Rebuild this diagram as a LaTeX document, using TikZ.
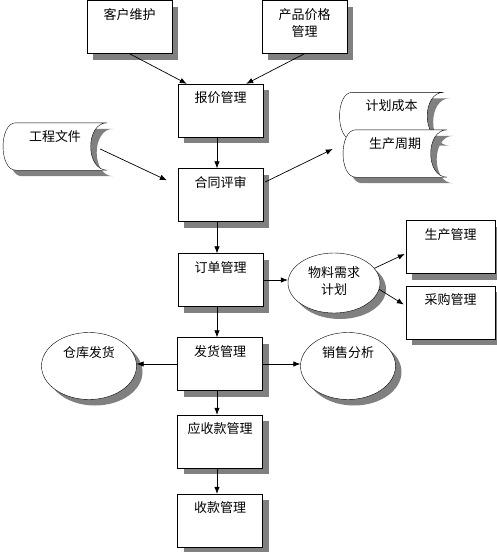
\documentclass[tikz,border=0pt]{standalone}
\usepackage{fontspec}
\setmainfont{Noto Sans CJK SC}
\usetikzlibrary{arrows.meta, shapes.geometric, shadows, backgrounds}
\tikzstyle{gray_shadow} = [drop shadow={shadow xshift=6pt, shadow yshift=-6pt, fill=black!50, opacity=1}]
\tikzstyle{proc_box} = [rectangle, draw=black, fill=white, minimum width=85pt, minimum height=53pt, inner sep=0pt, text height=18.5pt, text depth=34.5pt, font=\fontsize{13}{17}\selectfont, gray_shadow]
\tikzstyle{proc_ellipse} = [ellipse, draw=black, fill=white, inner sep=0pt, font=\fontsize{13}{17}\selectfont, gray_shadow]
\tikzstyle{data_node} = [rectangle, minimum width=104pt, minimum height=47pt, inner sep=0pt, text height=18pt, text depth=29pt, font=\fontsize{13}{17}\selectfont]
\tikzstyle{data_shape} = [draw=black, fill=white, gray_shadow]
\tikzstyle{flow_arrow} = [line width=0.7pt, -{Latex[length=7pt, width=5.5pt]}]
% stored data outline round a data_node
\newcommand{\datashape}[1]{%
  \path[data_shape] ([xshift=13pt]#1.north west) -- (#1.north east)
    .. controls ([xshift=-22pt]#1.north east) and ([xshift=-22pt]#1.south east) .. (#1.south east)
    -- ([xshift=13pt]#1.south west)
    .. controls ([xshift=-4pt]#1.south west) and ([xshift=-4pt]#1.north west) .. cycle;}

\begin{document}
\begin{tikzpicture}[x=1pt, y=-1pt]
    \useasboundingbox (0,0) rectangle (496,552);

    \node (kehu) [proc_box] at (129.5,27) {客户维护};
    \node (chanpin) [proc_box] at (304.5,27) {\begin{tabular}[t]{@{}c@{}}产品价格\\管理\end{tabular}};
    \node (baojia) [proc_box] at (220.5,110.5) {报价管理};
    \node (hetong) [proc_box] at (220.5,195) {合同评审};
    \node (dingdan) [proc_box] at (220.5,280) {订单管理};
    \node (fahuo) [proc_box] at (220,364) {发货管理};
    \node (yingshou) [proc_box] at (220,441.5) {应收款管理};
    \node (shoukuan) [proc_box] at (220,520.5) {收款管理};
    \node (shengchan) [proc_box, minimum width=89pt] at (450.5,247) {生产管理};
    \node (caigou) [proc_box, minimum width=89pt] at (450.5,312.5) {采购管理};

    \node (wuliao) [proc_ellipse, minimum width=92pt, minimum height=60pt] at (334,283) {\begin{tabular}{@{}c@{}}物料需求\\计划\end{tabular}};
    \node (cangku) [proc_ellipse, minimum width=95pt, minimum height=67pt, text height=0pt, text depth=17pt] at (89,366) {仓库发货};
    \node (xiaoshou) [proc_ellipse, minimum width=95pt, minimum height=67pt, text height=0pt, text depth=17pt] at (348,366) {销售分析};

    \node (gongcheng) [data_node] at (55,146.5) {工程文件};
    \node (jihua) [data_node] at (391.5,116) {计划成本};
    \node (zhouqi) [data_node] at (395,153.5) {生产周期};
    \begin{scope}[on background layer]
        \datashape{gongcheng}
        \datashape{jihua}
        \datashape{zhouqi}
    \end{scope}

    \draw [flow_arrow] (kehu.south) -- ([shift={(9,0)}]baojia.north west);
    \draw [flow_arrow] (chanpin.south) -- ([shift={(-17,0)}]baojia.north east);
    \draw [flow_arrow] ([shift={(-3.5,0)}]baojia.south) -- ([shift={(-3.5,0)}]hetong.north);
    \draw [flow_arrow] ([shift={(-7,2.5)}]gongcheng.east) -- ([shift={(-11,12)}]hetong.north west);
    \draw [flow_arrow] ([shift={(2,-13)}]hetong.east) -- ([shift={(-10,-4.5)}]zhouqi.west);
    \draw [flow_arrow] ([shift={(-3.5,0)}]hetong.south) -- ([shift={(-3.5,0)}]dingdan.north);
    \draw [flow_arrow] (dingdan.east) -- (dingdan.east -| wuliao.west);
    \draw [flow_arrow] (wuliao.20) -- ([shift={(-1,7)}]shengchan.west);
    \draw [flow_arrow] (wuliao.-8) -- ([shift={(-2,-8)}]caigou.west);
    \draw [flow_arrow] ([shift={(-3.5,0)}]dingdan.south) -- ([shift={(-3,0)}]fahuo.north);
    \draw [flow_arrow] (fahuo.west) -- (fahuo.west -| cangku.east);
    \draw [flow_arrow] (fahuo.east) -- (fahuo.east -| xiaoshou.west);
    \draw [flow_arrow] ([shift={(-3,0)}]fahuo.south) -- ([shift={(-3,0)}]yingshou.north);
    \draw [flow_arrow] ([shift={(-3,0)}]yingshou.south) -- ([shift={(-3,0)}]shoukuan.north);
\end{tikzpicture}
\end{document}
